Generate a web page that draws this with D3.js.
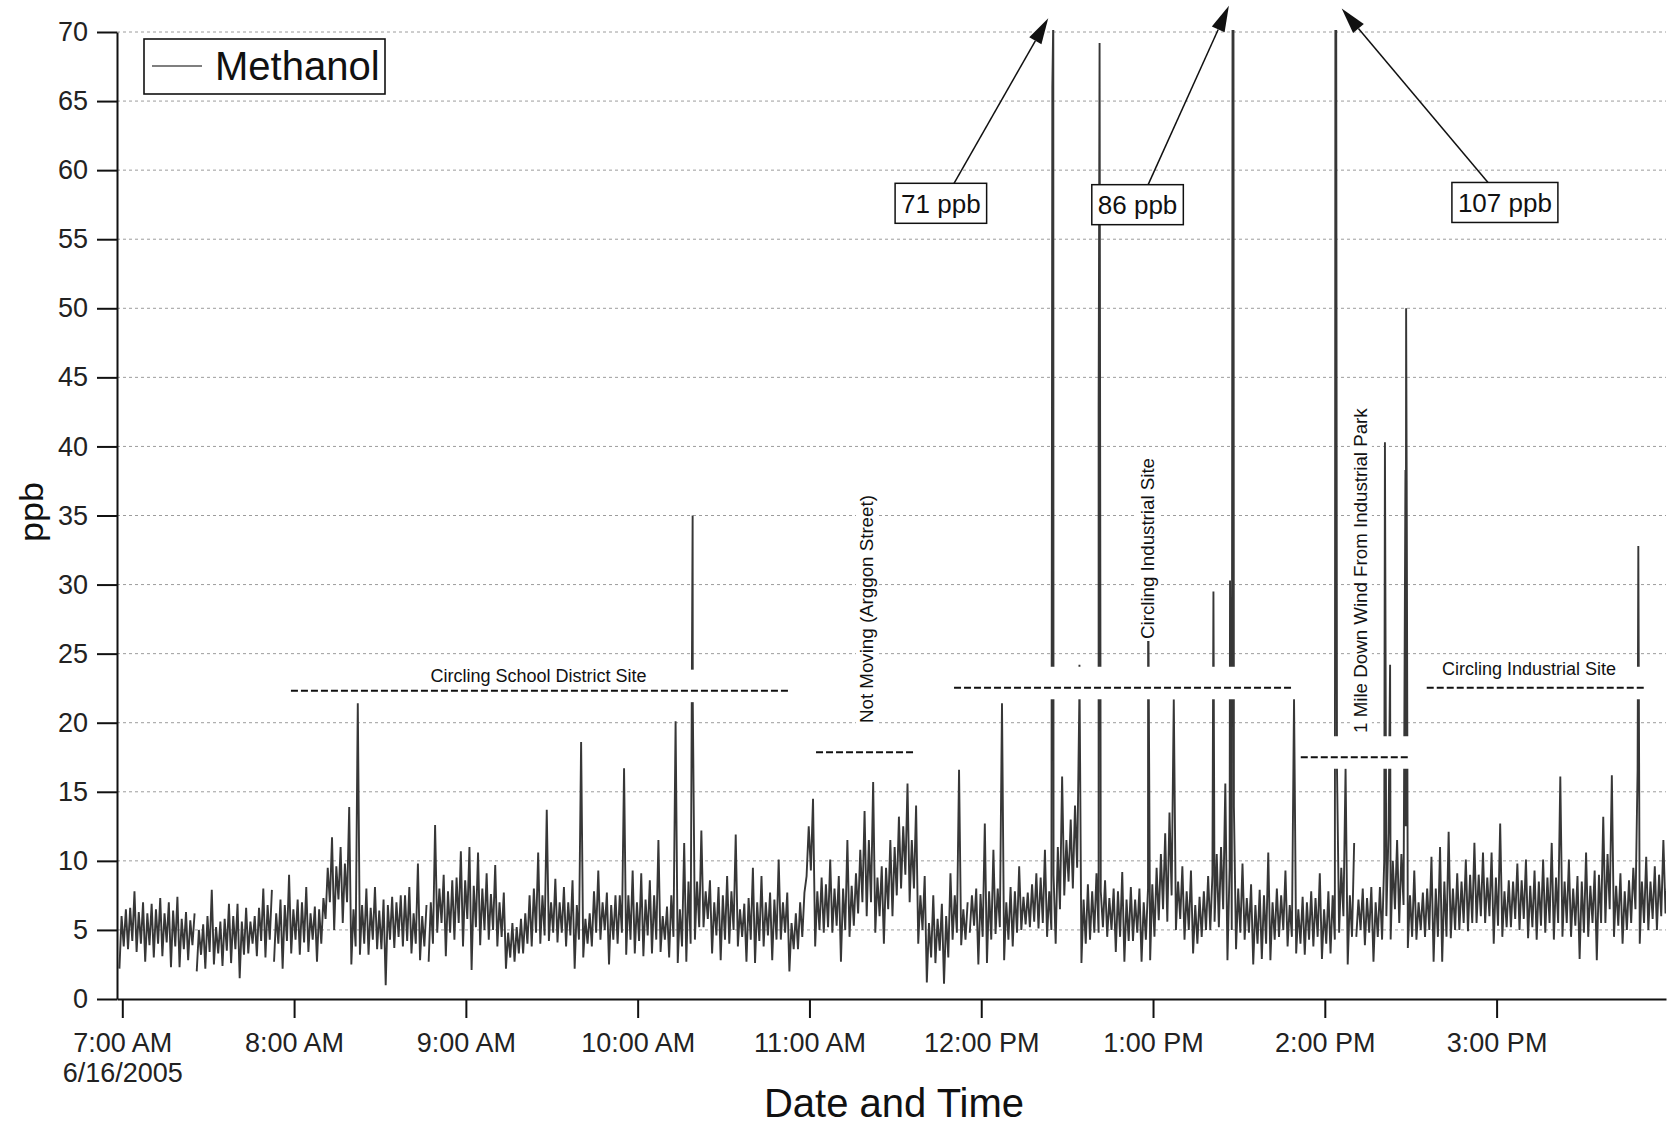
<!DOCTYPE html>
<html><head><meta charset="utf-8">
<script src="https://cdn.jsdelivr.net/npm/d3@7"></script>
<style>
html,body{margin:0;padding:0;background:#fff;}
svg{display:block;font-family:"Liberation Sans",Arial,Helvetica,sans-serif;}
</style></head><body>
<svg id="chart" width="1669" height="1126"></svg>
<script>
// ---------------- DATA ----------------
const seriesName = "Methanol";
const dateLabel = "6/16/2005";
const day = "2005-06-16";
const startTime = "06:59:00";     // first 3-minute bucket
const stepMinutes = 3;
// per 3-minute bucket: lowest and highest reading (ppb)
const bandLow = [2.2,3.6,3.4,2.7,3.0,3.1,2.3,2.3,2.8,2.0,2.2,2.5,2.4,2.6,1.5,3.3,3.1,3.0,2.7,2.2,
3.3,3.2,3.4,2.7,5.8,5.0,5.5,2.5,3.2,3.2,3.6,1.0,3.7,3.8,3.3,2.8,2.7,4.8,3.1,4.3,
3.8,2.1,3.9,4.3,3.8,2.2,2.7,3.3,3.8,4.0,4.2,4.1,3.8,2.2,3.0,3.8,4.3,2.5,4.0,3.2,
3.3,3.1,3.3,3.4,3.0,2.6,2.7,4.3,5.2,3.3,2.8,4.0,3.8,2.7,2.6,3.8,2.8,4.3,2.0,3.6,
8.9,3.8,4.8,4.8,2.7,4.5,6.2,6.0,4.8,4.0,6.0,8.0,7.0,4.0,1.2,2.6,1.1,4.3,3.9,4.8,
2.5,2.6,4.7,2.8,3.8,5.0,5.2,5.1,4.5,4.0,7.5,8.0,2.6,4.3,4.8,4.5,3.4,2.7,4.2,2.7,
2.8,5.7,5.6,5.0,4.3,3.3,4.5,5.0,5.2,2.8,3.6,4.3,2.5,2.9,2.8,4.5,3.8,3.3,3.2,3.8,
2.9,3.3,4.8,2.5,4.5,3.9,2.7,4.3,4.3,5.5,3.7,4.3,4.5,2.7,2.7,4.4,5.0,4.9,5.5,5.5,
4.0,4.5,5.2,5.0,4.4,4.3,4.8,4.3,4.5,4.5,2.9,4.5,2.8,5.5,4.5,4.0,5.5,4.0,5.0,5.0,6.2];
const bandHigh = [6.5,7.8,7.0,6.9,7.3,7.0,7.4,6.3,6.2,5.4,7.9,5.6,6.9,6.9,6.6,6.0,8.0,7.9,7.2,9.0,
7.2,8.1,6.7,7.3,11.7,11.0,13.9,21.4,8.0,8.1,7.2,7.4,7.5,8.1,9.8,6.8,12.6,9.0,8.6,10.7,
11.0,10.6,9.1,9.7,7.7,5.5,5.8,7.5,10.6,13.7,8.7,8.1,8.6,18.6,6.2,9.3,7.7,7.5,16.7,9.3,
9.1,8.6,11.5,6.7,20.1,11.3,21.5,12.2,8.6,8.1,8.9,11.9,6.9,9.5,8.9,7.7,10.1,7.7,6.2,7.7,
14.5,8.8,10.1,8.9,11.5,9.1,13.6,15.7,9.6,11.5,13.2,15.6,14.0,8.9,7.5,6.9,9.1,16.6,7.0,8.0,
12.7,10.8,21.4,8.1,9.6,7.7,9.1,10.8,9.0,16.1,13.0,21.5,8.3,9.1,8.6,8.0,9.2,8.1,8.0,8.0,
9.5,12.0,21.7,9.6,9.3,7.4,8.9,10.5,15.6,13.9,9.8,8.3,7.9,10.6,8.0,9.3,21.7,7.4,7.8,9.1,
7.8,16.7,16.7,11.3,8.0,8.1,8.1,12.0,11.5,12.5,9.3,7.7,10.3,11.0,12.1,9.1,10.1,11.3,10.6,10.6,
12.7,8.6,9.8,10.1,9.3,10.1,11.3,16.1,10.1,8.9,10.6,9.3,13.2,16.2,9.1,8.6,16.6,10.3,9.6,11.5,10.0];
// per 3-minute bucket: typical (dense) range of readings (ppb)
const coreLow = [3.8,4.2,4.0,3.9,4.0,4.1,3.8,3.6,3.9,
3.2,3.4,3.3,3.5,3.6,3.2,4.0,4.2,4.3,
4.0,4.2,4.3,4.1,4.3,4.0,
7.0,7.2,7.0,
3.8,4.0,4.3,3.6,4.3,4.5,4.2,4.0,3.8,
4.0,5.5,4.8,5.5,5.8,5.2,5.0,5.0,
4.5,3.0,3.3,4.0,
4.8,4.6,4.8,4.8,4.6,4.3,
4.0,4.8,5.0,4.3,4.8,4.3,4.2,4.6,4.3,4.3,
4.5,3.8,4.0,5.2,5.8,4.6,4.3,5.0,
4.5,4.3,4.2,4.6,4.3,4.8,3.6,4.5,
9.3,
5.0,5.2,5.3,5.0,5.3,
7.0,7.0,6.0,6.5,7.5,9.0,8.0,
5.0,3.0,3.5,3.0,4.8,4.3,
5.3,4.5,4.3,5.2,4.3,4.8,5.4,5.6,5.5,5.0,
6.5,8.5,9.5,
4.0,4.8,5.2,5.0,4.5,4.2,4.8,
4.3,4.5,6.5,7.5,5.8,5.0,4.0,
5.0,5.6,6.5,5.0,4.8,4.8,
4.0,4.0,4.3,5.0,4.5,4.0,4.3,4.5,4.0,
4.3,6.0,4.5,5.0,4.8,4.5,
6.0,6.5,6.8,
4.5,5.0,5.0,4.5,4.5,5.0,5.5,5.5,6.0,6.0,5.3,5.2,5.8,5.8,5.2,5.3,5.5,5.5,5.5,5.3,
4.8,5.5,5.5,6.5,5.3,5.0,6.5,5.5,5.8,6.0,6.8];
const coreHigh = [6.0,6.6,6.3,6.2,6.5,6.2,6.4,5.8,5.7,
5.0,6.0,5.2,5.8,6.0,5.6,5.6,6.6,6.8,
6.2,6.8,6.5,7.0,6.2,6.5,
9.5,9.6,9.8,
6.5,6.8,6.6,6.4,6.8,7.0,7.5,6.2,6.0,
7.0,8.0,7.8,8.8,8.6,8.2,8.0,7.6,
7.0,4.8,5.2,6.2,
8.0,7.5,7.0,7.0,7.0,6.8,
5.8,7.8,7.0,6.8,7.5,7.5,7.0,7.2,7.5,6.0,
7.5,6.5,8.5,8.5,7.8,7.0,7.5,7.8,
6.5,7.3,7.0,7.0,7.2,7.0,5.5,7.0,
12.5,
7.8,8.3,8.0,8.0,8.2,
10.8,11.5,8.8,9.5,11.0,12.5,11.5,
7.5,5.5,5.8,6.0,7.5,6.5,
7.5,7.6,7.8,8.0,7.0,7.8,7.4,8.3,8.8,7.8,
11.0,11.5,14.0,
7.2,7.8,7.8,7.3,7.8,7.2,7.2,
7.0,8.3,10.5,13.5,8.5,7.8,6.8,
7.8,9.0,11.0,9.5,8.0,7.3,
6.8,7.5,7.0,7.5,6.8,6.5,7.0,7.3,6.5,
7.5,9.5,7.5,7.2,7.3,7.0,
10.0,10.0,10.5,
7.5,7.0,8.0,8.0,8.5,8.0,8.5,9.0,9.0,8.8,8.8,7.8,8.5,8.6,8.2,8.5,8.8,8.8,8.5,8.0,
8.5,8.2,9.0,10.5,8.2,7.8,9.5,8.5,8.5,9.0,9.0];
// isolated high readings
const spikeTimes  = ["10:19:12","12:24:50","12:25:10","12:34:18","12:41:00","12:41:20","12:58:18",
  "13:21:06","13:26:54","13:27:50","13:28:05","14:03:48","14:21:00","14:22:48","14:28:10","14:28:24","14:28:36","15:49:30"];
const spikeValues = [35.0,66,71,24.2,42.8,69.2,31,29.5,30.3,86,78,107,40.3,24.2,38.3,50.0,37.5,32.8];
// moments with no data
const gapTimes = ["07:25:24","07:52:20","08:46:18","11:55:20","14:10:18"];

const yTicks = [0,5,10,15,20,25,30,35,40,45,50,55,60,65,70];
const xTickTimes = ["07:00","08:00","09:00","10:00","11:00","12:00","13:00","14:00","15:00"];
const xDomain = ["06:58:09","15:59:10"];
const yDomain = [0,70];

// site annotations (data space)
const annotTexts = ["Circling School District Site","Not Moving (Arggon Street)","Circling Industrial Site",
  "1 Mile Down Wind From Industrial Park","Circling Industrial Site"];
const annotTimes = ["09:25:24","11:22:12","13:00:18","14:14:42","15:11:18"];
const annotValues = [22.98,19.98,26.06,19.26,23.45];
const annotVertical = [false,true,true,true,false];
const dashStarts = ["07:58:54","11:02:18","11:50:30","13:51:36","14:35:36"];
const dashEnds   = ["10:52:48","11:37:12","13:48:12","14:29:30","15:51:48"];
const dashValues = [22.32,17.86,22.53,17.50,22.53];

// off-scale peak callouts (data space)
const calloutLabels = ["71 ppb","86 ppb","107 ppb"];
const calloutTipTimes = ["12:23:24","13:26:30","14:05:54"];
const calloutTipValues = [71.0,71.9,71.7];
const calloutBoxTimes = ["11:45:54","12:54:36","15:02:54"];
const calloutBoxValues = [57.6,57.5,57.66];
const calloutTailTimes = ["11:50:30","12:58:18","14:57:00"];

// ---------------- CHART ----------------
const parseT = d3.timeParse("%Y-%m-%dT%H:%M:%S");
const T = s => parseT(day + "T" + (s.length === 5 ? s + ":00" : s));
const svg = d3.select("#chart");
const L = 117, R = 1666, TOP = 32, BOT = 999;
const x = d3.scaleTime().domain(xDomain.map(T)).range([L, R]);
const y = d3.scaleLinear().domain(yDomain).range([BOT, TOP]);

// grid
svg.append("g").selectAll("line").data(yTicks.filter(v => v > 0)).join("line")
  .attr("x1", L).attr("x2", R).attr("y1", d => y(d)).attr("y2", d => y(d))
  .attr("stroke", "#9c9c9c").attr("stroke-width", 1).attr("stroke-dasharray", "3,3");

// series: each bucket visits low, typical high, typical low, high
const t0 = T(startTime);
const pts = [];
const q = stepMinutes * 60 / 4;
bandLow.forEach((lo, i) => {
  const ts = d3.timeSecond.offset(t0, i * stepMinutes * 60);
  [lo, coreHigh[i], coreLow[i], bandHigh[i]].forEach((v, k) => {
    if (v != null) pts.push({t: d3.timeSecond.offset(ts, k * q), v});
  });
});
spikeTimes.forEach((s, i) => pts.push({t: T(s), v: spikeValues[i]}));
gapTimes.forEach(s => pts.push({t: T(s), v: null}));
pts.sort((a, b) => a.t - b.t);

svg.append("clipPath").attr("id", "plotclip").append("rect")
  .attr("x", L).attr("y", TOP - 2).attr("width", R - L).attr("height", BOT - TOP + 2);
const line = d3.line().defined(d => d.v != null).x(d => x(d.t)).y(d => y(d.v));
svg.append("path").datum(pts).attr("clip-path", "url(#plotclip)")
  .attr("d", line).attr("fill", "none").attr("stroke", "#373737")
  .attr("stroke-width", 1.9).attr("stroke-linejoin", "miter").attr("stroke-miterlimit", 1.5);

// annotations
const ann = svg.append("g");
annotTexts.forEach((txt, i) => {
  const x1 = x(T(dashStarts[i])), x2 = x(T(dashEnds[i])), yy = y(dashValues[i]);
  ann.append("rect").attr("x", x1).attr("y", yy - 21).attr("width", x2 - x1).attr("height", 32.5).attr("fill", "#fff");
  ann.append("line").attr("x1", x1).attr("x2", x2).attr("y1", yy).attr("y2", yy)
    .attr("stroke", "#111").attr("stroke-width", 2).attr("stroke-dasharray", "7,3");
  const ax = x(T(annotTimes[i])), ay = y(annotValues[i]);
  const g = ann.append("g").attr("transform", annotVertical[i] ? `translate(${ax},${ay}) rotate(-90)` : `translate(${ax},${ay})`);
  const t = g.append("text").attr("x", 0).attr("y", 0).attr("font-size", 18).attr("fill", "#111")
    .attr("text-anchor", annotVertical[i] ? "start" : "middle").text(txt);
  if (annotVertical[i]) {
    const w = t.node().getComputedTextLength();
    t.attr("textLength", w * 1.04).attr("lengthAdjust", "spacingAndGlyphs");
  }
  const bb = t.node().getBBox();
  g.insert("rect", "text").attr("x", bb.x - 2).attr("y", bb.y - 1).attr("width", bb.width + 4).attr("height", bb.height + 2).attr("fill", "#fff");
});

// axes
const yAxis = d3.axisLeft(y).tickValues(yTicks).tickSize(20).tickPadding(9).tickSizeOuter(0);
const gy = svg.append("g").attr("transform", `translate(${L},0)`).call(yAxis);
gy.selectAll("text").attr("font-size", 27).attr("fill", "#222");
gy.selectAll("line,path").attr("stroke", "#111").attr("stroke-width", 2);

const fmt = d3.timeFormat("%-I:%M %p");
const xAxis = d3.axisBottom(x).tickValues(xTickTimes.map(T)).tickFormat(fmt).tickSize(19).tickPadding(15).tickSizeOuter(0);
const gx = svg.append("g").attr("transform", `translate(0,${BOT})`).call(xAxis);
gx.selectAll("text").attr("font-size", 27).attr("fill", "#222");
gx.selectAll("line,path").attr("stroke", "#111").attr("stroke-width", 2);
gx.select(".tick text").append("tspan").attr("x", 0).attr("dy", "1.1em").text(dateLabel);
gx.attr("font-family", null); gy.attr("font-family", null);

// axis titles
svg.append("text").attr("x", 894).attr("y", 1117).attr("text-anchor", "middle")
  .attr("font-size", 40).attr("fill", "#111").text("Date and Time");
svg.append("text").attr("transform", "translate(43,512) rotate(-90)").attr("text-anchor", "middle")
  .attr("font-size", 34).attr("textLength", 60).attr("lengthAdjust", "spacingAndGlyphs")
  .attr("fill", "#111").text("ppb");

// legend
const lg = svg.append("g");
lg.append("rect").attr("x", 144).attr("y", 39).attr("width", 241).attr("height", 55)
  .attr("fill", "#fff").attr("stroke", "#111").attr("stroke-width", 1.6);
lg.append("line").attr("x1", 152).attr("x2", 202).attr("y1", 66).attr("y2", 66).attr("stroke", "#555").attr("stroke-width", 1.5);
lg.append("text").attr("x", 215).attr("y", 80).attr("font-size", 40).attr("fill", "#111").text(seriesName);

// callouts
const co = svg.append("g");
calloutLabels.forEach((lab, i) => {
  const bx = x(T(calloutBoxTimes[i])), by = y(calloutBoxValues[i]);
  const tg = co.append("g");
  const t = tg.append("text").attr("x", bx).attr("y", by + 9.5).attr("text-anchor", "middle")
    .attr("font-size", 26).attr("fill", "#111").text(lab);
  const w = t.node().getComputedTextLength();
  const top = by - 20;
  tg.insert("rect", "text").attr("x", bx - w / 2 - 6).attr("y", top).attr("width", w + 12).attr("height", 40)
    .attr("fill", "#fff").attr("stroke", "#111").attr("stroke-width", 1.5);
  const sx = x(T(calloutTailTimes[i])), sy = top;
  const ex = x(T(calloutTipTimes[i])), ey = y(calloutTipValues[i]);
  const ang = Math.atan2(ey - sy, ex - sx), hl = 26, hw = 7;
  const bxh = ex - hl * Math.cos(ang), byh = ey - hl * Math.sin(ang);
  co.append("line").attr("x1", sx).attr("y1", sy).attr("x2", bxh).attr("y2", byh)
    .attr("stroke", "#111").attr("stroke-width", 1.5);
  const px = -Math.sin(ang) * hw, py = Math.cos(ang) * hw;
  co.append("polygon").attr("points", `${ex},${ey} ${bxh + px},${byh + py} ${bxh - px},${byh - py}`).attr("fill", "#111");
});
</script>
</body></html>
